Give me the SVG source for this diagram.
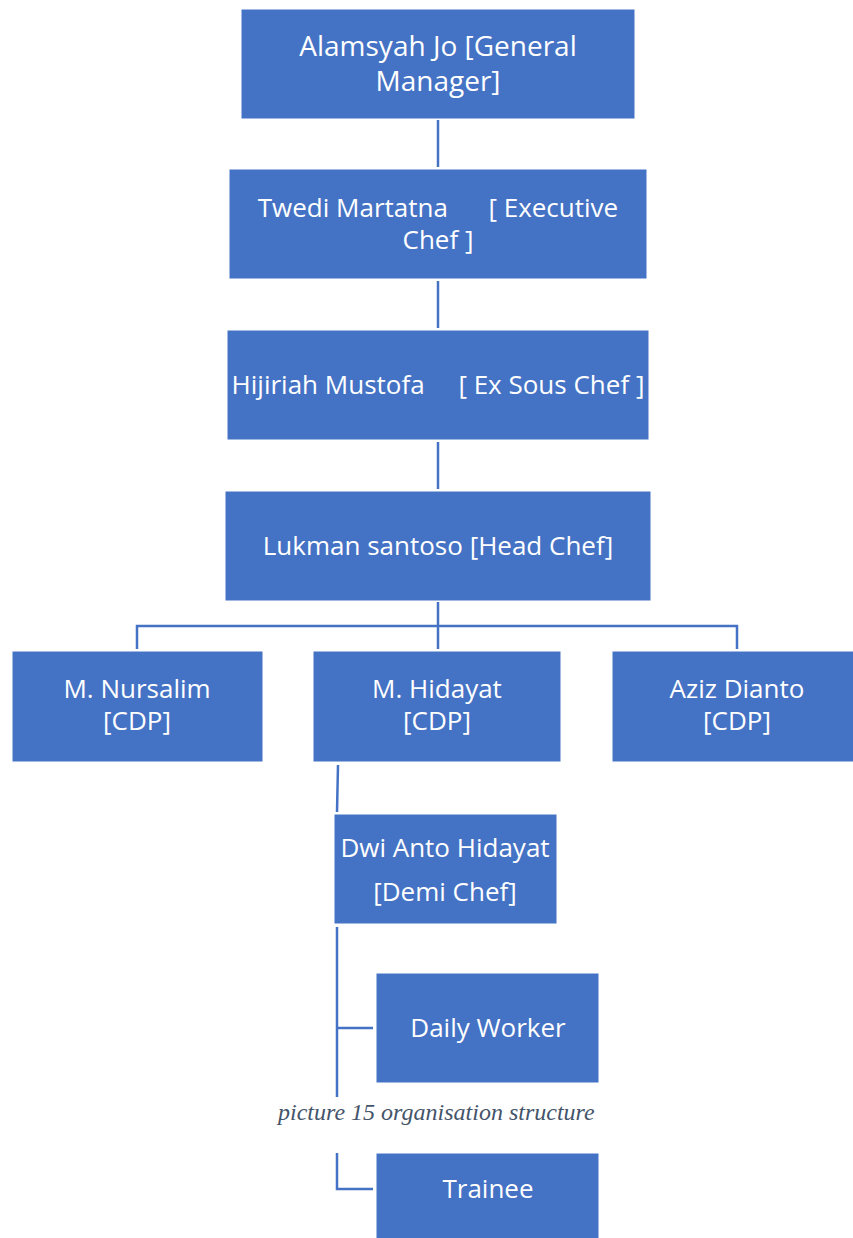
<svg xmlns="http://www.w3.org/2000/svg" width="853" height="1238" viewBox="0 0 853 1238">
<style>
.n{fill:#4472C4;stroke:#ffffff;stroke-width:1}
.t{font-family:"Open Sans","Liberation Sans",sans-serif;font-size:26px;fill:#ffffff;text-anchor:middle}
.big{font-size:28px}
.c{fill:none;stroke:#4472C4;stroke-width:2.5}
.cap{font-family:"Liberation Serif",serif;font-style:italic;font-size:24px;fill:#44546A}
</style>
<rect width="853" height="1238" fill="#ffffff"/>
<g id="connectors">
<line class="c" x1="438" y1="120" x2="438" y2="167"/>
<line class="c" x1="438" y1="281" x2="438" y2="328"/>
<line class="c" x1="438" y1="442" x2="438" y2="489"/>
<path class="c" d="M438 602 V649 M137 649 V626 H737 V649"/>
<line class="c" x1="338" y1="765" x2="337" y2="812" stroke-width="1.5"/>
<path class="c" d="M337 927 V1097 M337 1028 H373"/>
<path class="c" d="M337 1153 V1189 H373"/>
</g>
<g id="n1"><rect class="n" x="241" y="9" width="394" height="110"/><text class="t big" x="438" y="56">Alamsyah Jo [General</text><text class="t big" x="438" y="91">Manager]</text></g>
<g id="n2"><rect class="n" x="229" y="169" width="418" height="110"/><text class="t" x="438" y="217" xml:space="preserve">Twedi Martatna      [ Executive</text><text class="t" x="438" y="249">Chef ]</text></g>
<g id="n3"><rect class="n" x="227" y="330" width="422" height="110"/><text class="t" x="438" y="394" xml:space="preserve">Hijiriah Mustofa     [ Ex Sous Chef ]</text></g>
<g id="n4"><rect class="n" x="225" y="491" width="426" height="110"/><text class="t" x="438" y="555">Lukman santoso [Head Chef]</text></g>
<g id="n5"><rect class="n" x="12" y="651" width="251" height="111"/><text class="t" x="137" y="698">M. Nursalim</text><text class="t" x="137" y="730">[CDP]</text></g>
<g id="n6"><rect class="n" x="313" y="651" width="248" height="111"/><text class="t" x="437" y="698">M. Hidayat</text><text class="t" x="437" y="730">[CDP]</text></g>
<g id="n7"><rect class="n" x="612" y="651" width="245" height="111"/><text class="t" x="737" y="698">Aziz Dianto</text><text class="t" x="737" y="730">[CDP]</text></g>
<g id="n8"><rect class="n" x="334" y="814" width="223" height="110"/><text class="t" x="445" y="857">Dwi Anto Hidayat</text><text class="t" x="445" y="901">[Demi Chef]</text></g>
<g id="n9"><rect class="n" x="376" y="973" width="223" height="110"/><text class="t" x="488" y="1037">Daily Worker</text></g>
<g id="n10"><rect class="n" x="376" y="1153" width="223" height="110"/><text class="t" x="488" y="1198">Trainee</text></g>
<text class="cap" x="278" y="1120">picture 15 organisation structure</text>
</svg>
